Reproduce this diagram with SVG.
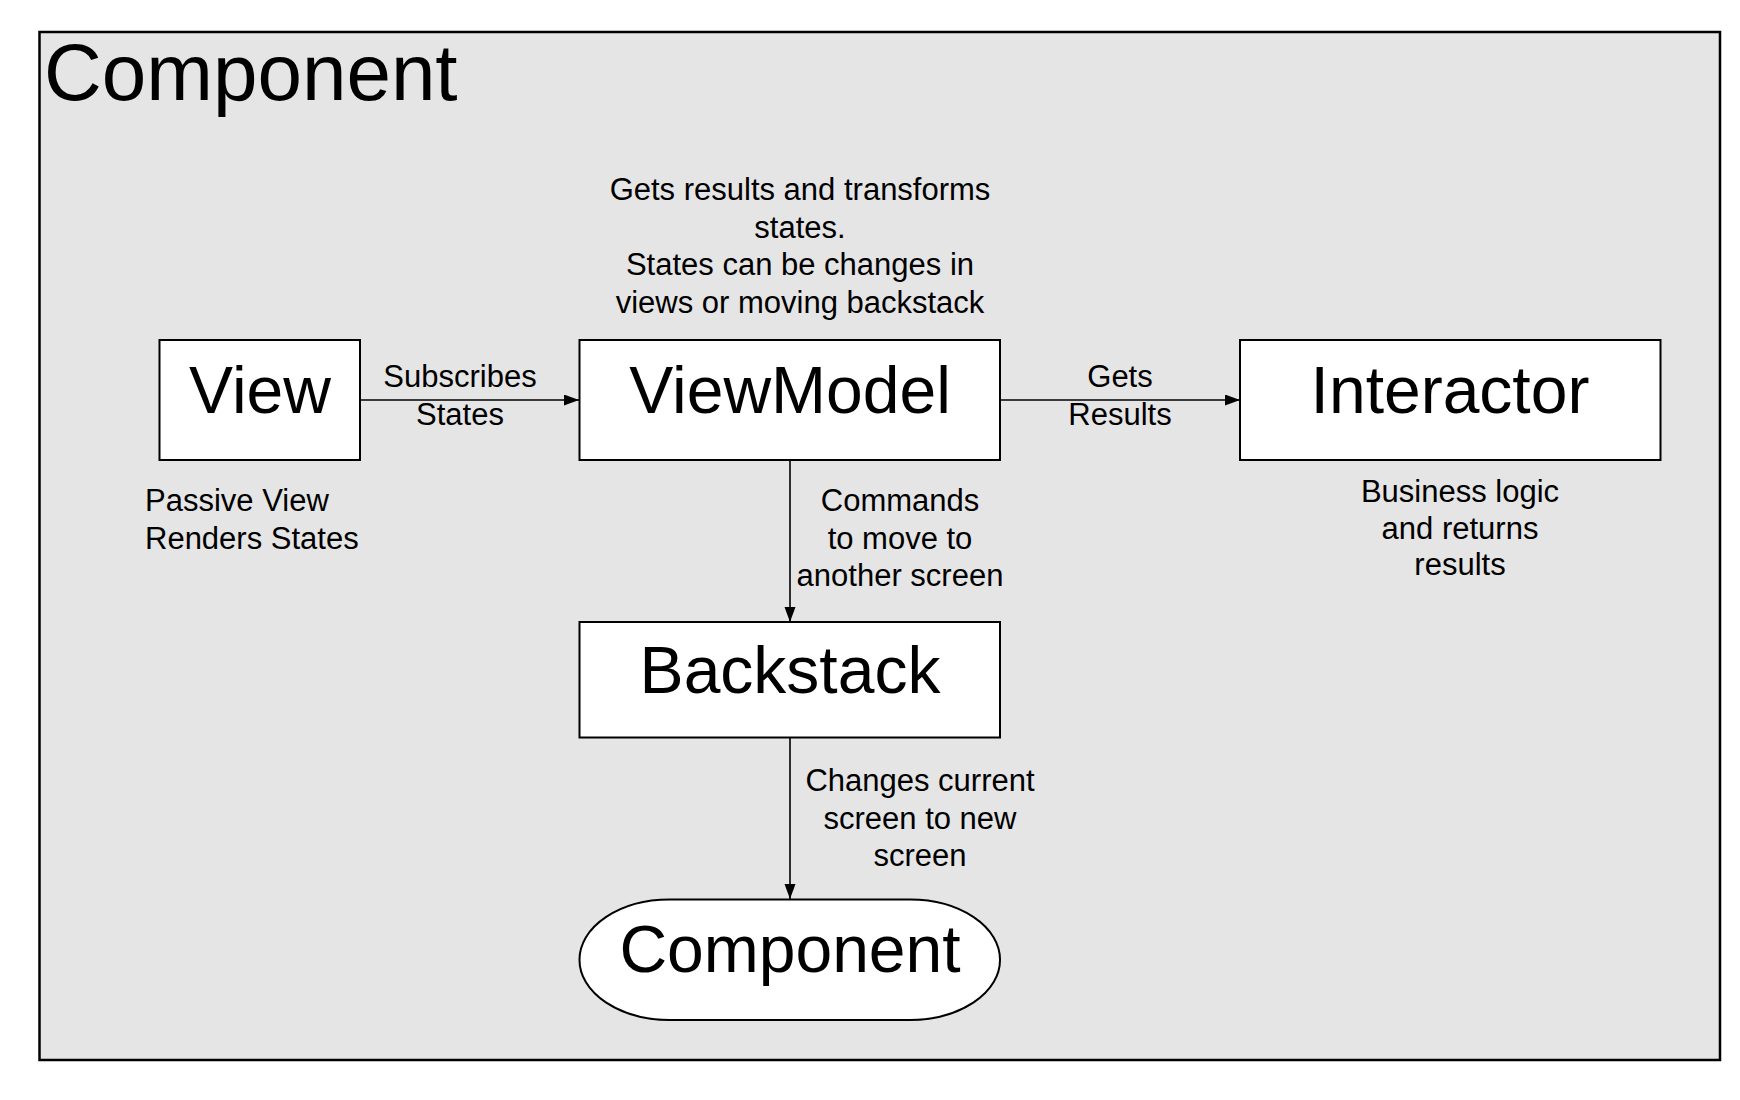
<svg xmlns="http://www.w3.org/2000/svg" width="1740" height="1100" viewBox="0 0 1740 1100">
<style>
text{font-family:"Liberation Sans",Arial,sans-serif;fill:#000}
.node{fill:#fff;stroke:#000;stroke-width:2}
.big{font-size:66px;text-anchor:middle}
.lbl{font-size:31px;text-anchor:middle}
.conn{stroke:#000;stroke-width:1.6;fill:none;marker-end:url(#ah)}
</style>
<defs>
<marker id="ah" markerUnits="userSpaceOnUse" markerWidth="16" markerHeight="12" refX="15" refY="5.5" orient="auto">
<path d="M0,0 L15,5.5 L0,11 z" fill="#000"/>
</marker>
</defs>
<rect width="1740" height="1100" fill="#fff"/>
<g id="container">
<rect x="39.5" y="32" width="1680.5" height="1028" fill="#e5e5e5" stroke="#000" stroke-width="2.5"/>
<text x="44" y="100" font-size="80">Component</text>
</g>
<g id="connectors">
<line class="conn" x1="360" y1="400" x2="579" y2="400"/>
<line class="conn" x1="1000" y1="400" x2="1240" y2="400"/>
<line class="conn" x1="790" y1="460" x2="790" y2="622"/>
<line class="conn" x1="790" y1="737" x2="790" y2="899"/>
<text class="lbl" x="460" y="387">Subscribes</text>
<text class="lbl" x="460" y="424.5">States</text>
<text class="lbl" x="1120" y="387">Gets</text>
<text class="lbl" x="1120" y="424.5">Results</text>
<text class="lbl" x="900" y="511">Commands</text>
<text class="lbl" x="900" y="548.5">to move to</text>
<text class="lbl" x="900" y="586">another screen</text>
<text class="lbl" x="920" y="791">Changes current</text>
<text class="lbl" x="920" y="828.5">screen to new</text>
<text class="lbl" x="920" y="866">screen</text>
</g>
<g id="view">
<rect class="node" x="159.5" y="340" width="200.5" height="120"/>
<text class="big" x="260" y="413">View</text>
<text font-size="31" x="145" y="511">Passive View</text>
<text font-size="31" x="145" y="548.5">Renders States</text>
</g>
<g id="viewmodel">
<rect class="node" x="579.5" y="340" width="420.5" height="120"/>
<text class="big" x="790" y="413">ViewModel</text>
<text class="lbl" x="800" y="200">Gets results and transforms</text>
<text class="lbl" x="800" y="237.5">states.</text>
<text class="lbl" x="800" y="275">States can be changes in</text>
<text class="lbl" x="800" y="312.5">views or moving backstack</text>
</g>
<g id="interactor">
<rect class="node" x="1240" y="340" width="420.5" height="120"/>
<text class="big" x="1450" y="413">Interactor</text>
<text class="lbl" x="1460" y="501.5">Business logic</text>
<text class="lbl" x="1460" y="538.5">and returns</text>
<text class="lbl" x="1460" y="575">results</text>
</g>
<g id="backstack">
<rect class="node" x="579.5" y="622" width="420.5" height="115.5"/>
<text class="big" x="790" y="693">Backstack</text>
</g>
<g id="component">
<rect class="node" x="579.5" y="899.5" width="420.5" height="120.5" rx="90" ry="60"/>
<text class="big" x="790" y="972">Component</text>
</g>
</svg>
